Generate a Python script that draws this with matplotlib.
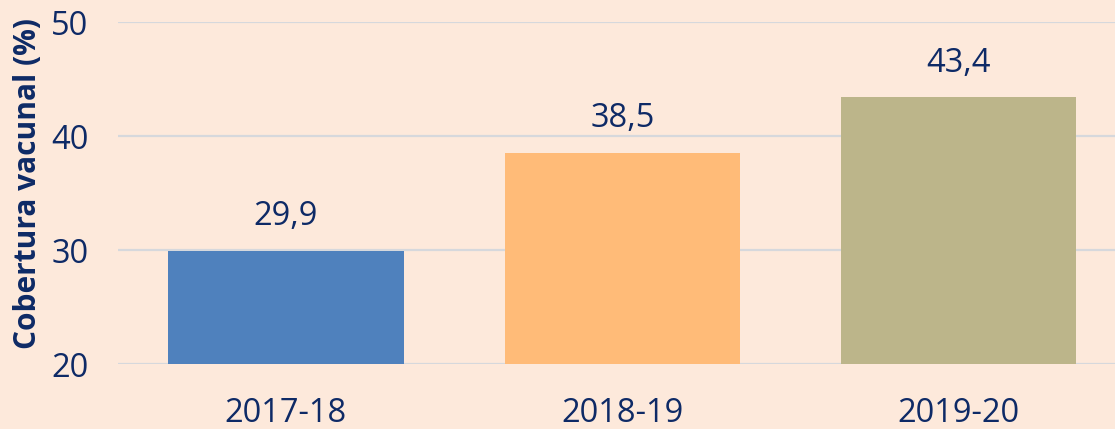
import matplotlib.pyplot as plt

categories = ['2017-18', '2018-19', '2019-20']
values = [29.9, 38.5, 43.4]
value_labels = ['29,9', '38,5', '43,4']
colors = ['#4F81BD', '#FFBB78', '#BCB58A']

bg = '#FDE9DB'
navy = '#0E2A66'
plt.rcParams['font.family'] = ['Open Sans', 'DejaVu Sans']

fig = plt.figure(figsize=(11.15, 4.29), dpi=100, facecolor=bg)
ax = fig.add_axes([0.1056, 0.1515, 0.905, 0.7972], facecolor=bg)

x = range(len(categories))
ax.bar(x, values, width=0.70, color=colors, zorder=3)
for i, v in enumerate(values):
    ax.text(i, v + 3.0, value_labels[i], ha='center', va='center',
            fontsize=23.5, color=navy)

ax.set_ylim(20, 50)
ax.set_xlim(-0.5, 2.5)
ax.set_yticks([20, 30, 40, 50])
ax.set_xticks(list(x))
ax.set_xticklabels(categories)
ax.grid(axis='y', color='#D6D8DC', linewidth=1.6, zorder=0)
for s in ax.spines.values():
    s.set_visible(False)
ax.tick_params(length=0, labelsize=23.5, labelcolor=navy)
ax.tick_params(axis='x', pad=24)
ax.tick_params(axis='y', pad=21)
ax.set_ylabel('Cobertura vacunal (%)', fontsize=21.5, fontweight='bold',
              color=navy, va='center')
ax.yaxis.set_label_coords(-0.089, 0.529)

fig.savefig('out.png', dpi=100, facecolor=bg)
